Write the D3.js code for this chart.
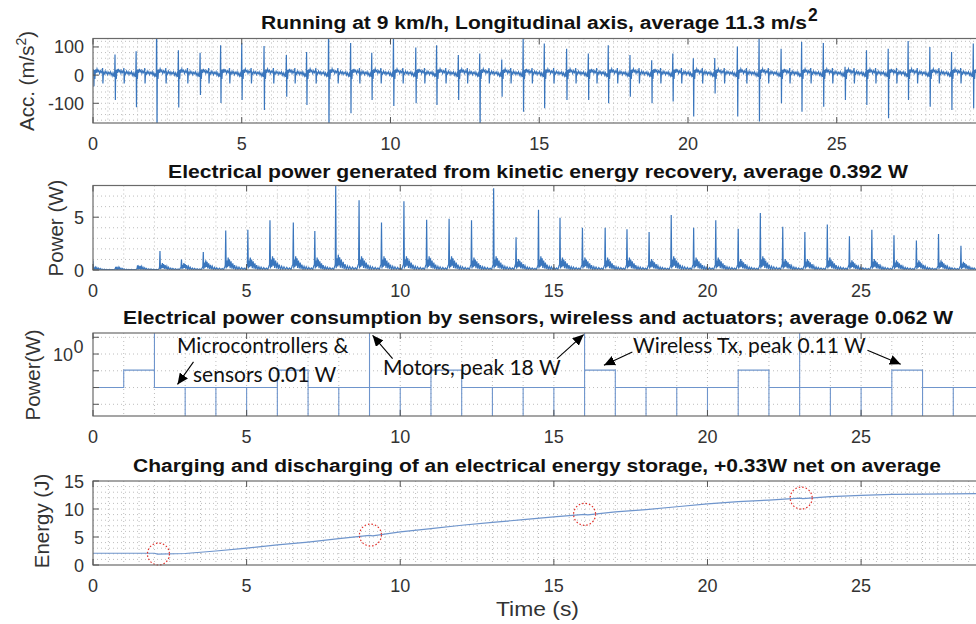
<!DOCTYPE html>
<html lang="en">
<head>
<meta charset="utf-8">
<title>Kinetic energy harvesting while running</title>
<script src="https://cdn.jsdelivr.net/npm/d3@7"></script>
<style type="text/css">
  body { margin: 0; background: #fff; }
  svg text { font-family: 'Liberation Sans', Arial, sans-serif; fill: #262626; }
  .title { font-weight: bold; font-size: 17.5px; fill: #111; }
  .tick { font-size: 18px; fill: #333; }
  .ylab { font-size: 20.5px; fill: #333; }
  .note { font-family: Lato, 'Open Sans', sans-serif; font-size: 21px; fill: #111; }
</style>
</head>
<body>
<div id="chart"></div>
<script>

/* Data */
/* ======================= */

// Panel 1 - longitudinal acceleration, one main spike per stride
var accStrideTime = [0.02, 0.74, 1.45, 2.14, 2.87, 3.60, 4.29, 5.00, 5.75, 6.50, 7.18, 7.92, 8.66, 9.37,
  10.10, 10.85, 11.55, 12.28, 13.00, 13.74, 14.46, 15.17, 15.92, 16.65, 17.32, 18.05, 18.78, 19.49,
  20.18, 20.90, 21.66, 22.39, 23.13, 23.82, 24.55, 25.28, 26.00, 26.73, 27.40, 28.13, 28.86, 29.59];
var accPeakHigh = [20, 73, 85, 200, 88, 79, 106, 114, 103, 71, 82, 200, 114, 79,
  140, 98, 106, 71, 77, 55, 135, 112, 94, 77, 106, 71, 53, 77,
  60, 61, 102, 135, 94, 118, 114, 30, 88, 94, 121, 100, 82, 112];
var accPeakLow = [-40, -88, -114, -200, -115, -71, -99, -88, -124, -77, -106, -200, -135, -88,
  -110, -100, -106, -88, -200, -77, -130, -118, -88, -88, -100, -77, -100, -94,
  -147, -65, -147, -165, -100, -130, -112, -88, -106, -153, -88, -112, -124, -118];
// wiggle between two spikes (fraction of the stride, m/s^2)
var accWiggleFrac = [0.03, 0.06, 0.09, 0.12, 0.16, 0.20, 0.24, 0.28, 0.32, 0.36, 0.40, 0.42, 0.435, 0.46,
  0.50, 0.54, 0.58, 0.62, 0.66, 0.70, 0.74, 0.78, 0.82, 0.86, 0.90, 0.94, 0.97];
var accWiggleVal = [18, -14, 20, 8, 22, 12, 17, 6, 15, 9, 16, 25, -30, 10,
  4, 14, 6, 12, 2, 10, 5, 12, 0, 8, -3, 6, -6];

// Panel 2 - generated power, one peak per stride
var genStrideTime = [0.00, 0.74, 1.45, 2.18, 2.88, 3.59, 4.32, 5.04, 5.76, 6.52, 7.22, 7.90, 8.66, 9.39,
  10.12, 10.86, 11.59, 12.32, 13.04, 13.77, 14.50, 15.20, 15.93, 16.67, 17.38, 18.10, 18.82, 19.55,
  20.27, 21.00, 21.72, 22.45, 23.17, 23.90, 24.62, 25.35, 26.07, 26.80, 27.52, 28.25, 28.97];
var genPeak = [0.9, 0.3, 0.45, 1.8, 1.0, 1.7, 3.75, 3.8, 4.7, 4.5, 3.7, 8.0, 6.6, 4.5,
  6.5, 4.75, 4.85, 4.7, 7.75, 3.1, 5.7, 4.95, 4.0, 4.0, 3.85, 3.6, 5.2, 4.0,
  4.7, 3.9, 5.4, 4.1, 3.6, 4.3, 3.2, 3.8, 3.3, 2.8, 3.4, 2.3, 3.6];
var genCluster = [0.2, 0.2, 0.3, 0.5, 0.5, 0.7, 0.9, 0.9, 1.0, 1.0, 0.9, 1.1, 1.0, 1.0,
  1.0, 1.0, 1.0, 0.9, 1.0, 0.8, 1.0, 0.9, 0.9, 0.9, 0.9, 0.8, 1.0, 0.9,
  0.9, 0.8, 1.0, 0.8, 0.8, 0.9, 0.7, 0.8, 0.7, 0.7, 0.7, 0.6, 0.7];
var genWiggleFrac = [0.02, 0.05, 0.08, 0.11, 0.14, 0.17, 0.20, 0.24, 0.28, 0.32, 0.36, 0.40, 0.45,
  0.50, 0.55, 0.60, 0.66, 0.72, 0.78, 0.84, 0.90, 0.96];
var genWiggleVal = [0.15, 1.0, 0.3, 1.3, 0.4, 1.1, 0.2, 0.9, 0.15, 0.7, 0.1, 0.5, 0.05,
  0.35, 0.05, 0.3, 0.05, 0.25, 0.05, 0.2, 0.04, 0.45];

// Panel 3 - consumption, level held during each second (W)
var consLevel = [0.01, 0.11, 0.01, 0.01, 0.01, 0.01, 0.11, 0.01, 0.01, 0.01, 0.01, 0.11, 0.01, 0.01, 0.01,
  0.01, 0.11, 0.01, 0.01, 0.01, 0.01, 0.11, 0.01, 0.01, 0.01, 0.01, 0.11, 0.01, 0.01];
var motorTime = [2, 9, 16, 23];
var motorPeakW = 18;
var dipTime = [3, 4, 5, 6, 7, 8, 9, 10, 11, 12, 13, 14, 15, 16, 17, 18, 19, 20, 21, 22, 23, 24, 25, 26, 27, 28];
var dipFloorW = 2e-4;

// Panel 4 - stored energy (J)
var energyTime = [0, 1, 2, 2.1, 3, 4, 5, 6, 7, 8, 9, 9.1, 10, 11, 12, 13, 14, 15, 16, 16.1,
  17, 18, 19, 20, 21, 22, 23, 23.1, 24, 25, 26, 27, 28, 29];
var energyJ = [2.1, 2.1, 2.1, 1.95, 2.05, 2.5, 3.0, 3.6, 4.1, 4.7, 5.3, 5.2, 5.9, 6.5, 7.1, 7.6, 8.1, 8.6, 9.05, 8.95,
  9.5, 9.9, 10.4, 10.9, 11.3, 11.6, 11.95, 11.85, 12.2, 12.45, 12.6, 12.65, 12.7, 12.75];
var circleTime = [2.13, 9.03, 16.0, 23.05];
var circleJ = [1.96, 5.35, 9.05, 11.95];

var xTickValues = [0, 5, 10, 15, 20, 25];


/* Layout */
/* ====== */

var width = 976, height = 624,
    plotLeft = 93, plotRight = 984;

var pAcc = { top: 38.5, bottom: 123 },
    pGen = { top: 185.5, bottom: 270 },
    pCons = { top: 333, bottom: 416 },
    pEn = { top: 481, bottom: 565 };

var svg = d3.select('#chart').append('svg')
    .attr('width', width)
    .attr('height', height);

var defs = svg.append('defs');

defs.append('marker')
    .attr('id', 'head')
    .attr('markerUnits', 'userSpaceOnUse')
    .attr('markerWidth', 12).attr('markerHeight', 10)
    .attr('refX', 11).attr('refY', 5)
    .attr('orient', 'auto')
  .append('path')
    .attr('d', 'M0,0 L11,5 L0,10 Z')
    .attr('fill', '#000');


/* Helpers */
/* ======= */

function clipFor(id, p) {
  defs.append('clipPath').attr('id', id)
    .append('rect')
      .attr('x', plotLeft).attr('y', p.top)
      .attr('width', plotRight - plotLeft).attr('height', p.bottom - p.top);
  return 'url(#' + id + ')';
}

function grid(p, x, y, xs, ys) {
  var g = svg.append('g');
  g.selectAll('line.gx').data(xs).enter().append('line')
    .attr('x1', d => x(d)).attr('x2', d => x(d))
    .attr('y1', p.top).attr('y2', p.bottom)
    .attr('stroke', '#bdbdbd').attr('stroke-width', 1).attr('stroke-dasharray', '1,3');
  g.selectAll('line.gy').data(ys).enter().append('line')
    .attr('x1', plotLeft).attr('x2', plotRight)
    .attr('y1', d => y(d)).attr('y2', d => y(d))
    .attr('stroke', '#bdbdbd').attr('stroke-width', 1).attr('stroke-dasharray', '1,3');
}

function box(p, x, y, yTicks, yFormat, xLabelBase) {
  var g = svg.append('g');

  g.append('rect')
    .attr('x', plotLeft).attr('y', p.top)
    .attr('width', plotRight - plotLeft).attr('height', p.bottom - p.top)
    .attr('fill', 'none').attr('stroke', '#6a6a6a').attr('stroke-width', 1.2);

  // inward ticks, top and bottom
  xTickValues.forEach(function(t) {
    g.append('line').attr('x1', x(t)).attr('x2', x(t)).attr('y1', p.bottom).attr('y2', p.bottom - 6)
      .attr('stroke', '#555').attr('stroke-width', 1);
    g.append('line').attr('x1', x(t)).attr('x2', x(t)).attr('y1', p.top).attr('y2', p.top + 6)
      .attr('stroke', '#555').attr('stroke-width', 1);
    g.append('text').attr('class', 'tick')
      .attr('x', x(t)).attr('y', xLabelBase)
      .attr('text-anchor', 'middle')
      .text(t);
  });

  yTicks.forEach(function(v) {
    g.append('line').attr('x1', plotLeft).attr('x2', plotLeft + 6).attr('y1', y(v)).attr('y2', y(v))
      .attr('stroke', '#555').attr('stroke-width', 1);
    if (yFormat) {
      g.append('text').attr('class', 'tick')
        .attr('x', plotLeft - 9).attr('y', y(v) + 6.5)
        .attr('text-anchor', 'end')
        .text(yFormat(v));
    }
  });
  return g;
}

// titles are set wider than the font, as in the original figure
function title(txt, yBase, left, len) {
  return svg.append('text').attr('class', 'title')
    .attr('x', left).attr('y', yBase)
    .attr('textLength', len)
    .attr('lengthAdjust', 'spacingAndGlyphs')
    .text(txt);
}

function yLabel(xBase, yMid) {
  return svg.append('text').attr('class', 'ylab')
    .attr('transform', 'translate(' + xBase + ',' + yMid + ') rotate(-90)')
    .attr('text-anchor', 'middle');
}


/* Panel 1 - acceleration */
/* ====================== */

var x1 = d3.scaleLinear().domain([0, 29.95]).range([plotLeft, plotRight]);
var y1 = d3.scaleLinear().domain([-170, 130]).range([pAcc.bottom, pAcc.top]);

var accPts = [[0, 0]];
accStrideTime.forEach(function(t, i) {
  var next = i < accStrideTime.length - 1 ? accStrideTime[i + 1] : t + 0.71;
  var gap = next - t;
  accPts.push([t - 0.012, 6]);
  accPts.push([t, accPeakHigh[i]]);
  accPts.push([t + 0.012, accPeakLow[i]]);
  accWiggleFrac.forEach(function(f, j) {
    accPts.push([t + f * gap, accWiggleVal[j]]);
  });
});

grid(pAcc, x1, y1, d3.range(0.5, 30, 0.5), d3.range(-160, 130, 20));

svg.append('path')
    .datum(accPts)
    .attr('clip-path', clipFor('clipAcc', pAcc))
    .attr('fill', 'none')
    .attr('stroke', '#3a76bd')
    .attr('stroke-width', 1.2)
    .attr('d', d3.line().x(d => x1(d[0])).y(d => y1(d[1])));

box(pAcc, x1, y1, [-100, 0, 100], d => String(d), 150);
title('Running at 9 km/h, Longitudinal axis, average 11.3 m/s', 29, 261, 546);
svg.append('text').attr('class', 'title')
    .attr('x', 808).attr('y', 21)
    .attr('font-size', 13)
    .text('2');

var l1 = yLabel(34, 81);
l1.append('tspan').text('Acc. (m/s');
l1.append('tspan').attr('dy', -8).attr('font-size', 14).text('2');
l1.append('tspan').attr('dy', 8).text(')');


/* Panel 2 - generated power */
/* ========================= */

var x2 = d3.scaleLinear().domain([0, 29]).range([plotLeft, plotRight]);
var y2 = d3.scaleLinear().domain([0, 8]).range([pGen.bottom, pGen.top]);

var genPts = [];
genStrideTime.forEach(function(t, i) {
  var next = i < genStrideTime.length - 1 ? genStrideTime[i + 1] : t + 0.72;
  var gap = next - t;
  if (i > 0) genPts.push([t - 0.015, 0.5 * genCluster[i]]);
  genPts.push([t, genPeak[i]]);
  genWiggleFrac.forEach(function(f, j) {
    genPts.push([t + f * gap, genWiggleVal[j] * genCluster[i]]);
  });
});

grid(pGen, x2, y2, d3.range(1, 29, 1), d3.range(1, 8, 1));

svg.append('path')
    .datum(genPts)
    .attr('clip-path', clipFor('clipGen', pGen))
    .attr('fill', 'none')
    .attr('stroke', '#3a76bd')
    .attr('stroke-width', 1.2)
    .attr('d', d3.line().x(d => x2(d[0])).y(d => y2(d[1])));

box(pGen, x2, y2, [0, 5], d => String(d), 297);
title('Electrical power generated from kinetic energy recovery, average 0.392 W', 177.5, 168, 740);
yLabel(63, 228).text('Power (W)');


/* Panel 3 - consumption (log) */
/* =========================== */

var x3 = d3.scaleLinear().domain([0, 29]).range([plotLeft, plotRight]);
var y3 = d3.scaleLog().domain([dipFloorW, motorPeakW]).range([pCons.bottom, pCons.top]);

var consPts = [[0, consLevel[0]]];
for (var s = 1; s < consLevel.length; s++) {
  consPts.push([s, consLevel[s - 1]]);
  if (motorTime.indexOf(s) >= 0) consPts.push([s, motorPeakW]);
  if (dipTime.indexOf(s) >= 0) consPts.push([s, dipFloorW]);
  consPts.push([s, consLevel[s]]);
}
consPts.push([consLevel.length, consLevel[consLevel.length - 1]]);

var decades = [1e-3, 1e-2, 1e-1, 1, 10];
grid(pCons, x3, y3, d3.range(1, 29, 1), decades);

svg.append('path')
    .datum(consPts)
    .attr('clip-path', clipFor('clipCons', pCons))
    .attr('fill', 'none')
    .attr('stroke', '#6f95cc')
    .attr('stroke-width', 1.1)
    .attr('d', d3.line().x(d => x3(d[0])).y(d => y3(d[1])));

box(pCons, x3, y3, decades, null, 443);

svg.append('text').attr('class', 'tick')
    .attr('x', plotLeft - 20).attr('y', y3(1) + 7)
    .attr('text-anchor', 'end')
    .text('10');
svg.append('text').attr('class', 'tick')
    .attr('x', plotLeft - 19.5).attr('y', y3(1) - 1)
    .attr('font-size', 13)
    .text('0');

title('Electrical power consumption by sensors, wireless and actuators; average 0.062 W', 323.5, 123, 830);
yLabel(40, 375).text('Power(W)');

// annotations
var notes = [
  { text: 'Microcontrollers &', x: 177, y: 353 },
  { text: 'sensors 0.01 W', x: 193, y: 381.5 },
  { text: 'Motors, peak 18 W', x: 383, y: 375 },
  { text: 'Wireless Tx, peak 0.11 W', x: 633, y: 353 }
];
svg.selectAll('text.note').data(notes).enter().append('text')
    .attr('class', 'note')
    .attr('x', d => d.x).attr('y', d => d.y)
    .text(d => d.text);

// arrow tip in data units, tail as a pixel offset from it
var arrows = [
  { t: 2.75, w: 0.0153, dx: 16, dy: -22.5 },
  { t: 9.1, w: 13.1, dx: 20, dy: 23.3 },
  { t: 15.97, w: 14.4, dx: -26.6, dy: 24 },
  { t: 16.63, w: 0.216, dx: 28.4, dy: -13.3 },
  { t: 26.29, w: 0.247, dx: -33.3, dy: -14 }
];
svg.selectAll('line.arrow').data(arrows).enter().append('line')
    .attr('x1', d => x3(d.t) + d.dx).attr('y1', d => y3(d.w) + d.dy)
    .attr('x2', d => x3(d.t)).attr('y2', d => y3(d.w))
    .attr('stroke', '#000').attr('stroke-width', 1.1)
    .attr('marker-end', 'url(#head)');


/* Panel 4 - stored energy */
/* ======================= */

var x4 = d3.scaleLinear().domain([0, 29]).range([plotLeft, plotRight]);
var y4 = d3.scaleLinear().domain([0, 15]).range([pEn.bottom, pEn.top]);

grid(pEn, x4, y4, d3.range(0.5, 29, 0.5), d3.range(1, 15, 1));

svg.append('path')
    .datum(energyTime.map((t, i) => [t, energyJ[i]]))
    .attr('clip-path', clipFor('clipEn', pEn))
    .attr('fill', 'none')
    .attr('stroke', '#6f95cc')
    .attr('stroke-width', 1.2)
    .attr('d', d3.line().x(d => x4(d[0])).y(d => y4(d[1])));

svg.selectAll('circle.mark').data(circleTime).enter().append('circle')
    .attr('cx', d => x4(d))
    .attr('cy', (d, i) => y4(circleJ[i]))
    .attr('r', 11)
    .attr('fill', 'none')
    .attr('stroke', '#e0302a')
    .attr('stroke-width', 1.2)
    .attr('stroke-dasharray', '1.5,2');

box(pEn, x4, y4, [0, 5, 10, 15], d => String(d), 592);
title('Charging and discharging of an electrical energy storage, +0.33W net on average', 472, 133, 808);
yLabel(49, 521).text('Energy (J)');

svg.append('text').attr('class', 'ylab')
    .attr('x', 496).attr('y', 616)
    .attr('textLength', 83)
    .attr('lengthAdjust', 'spacingAndGlyphs')
    .text('Time (s)');

</script>
</body>
</html>
